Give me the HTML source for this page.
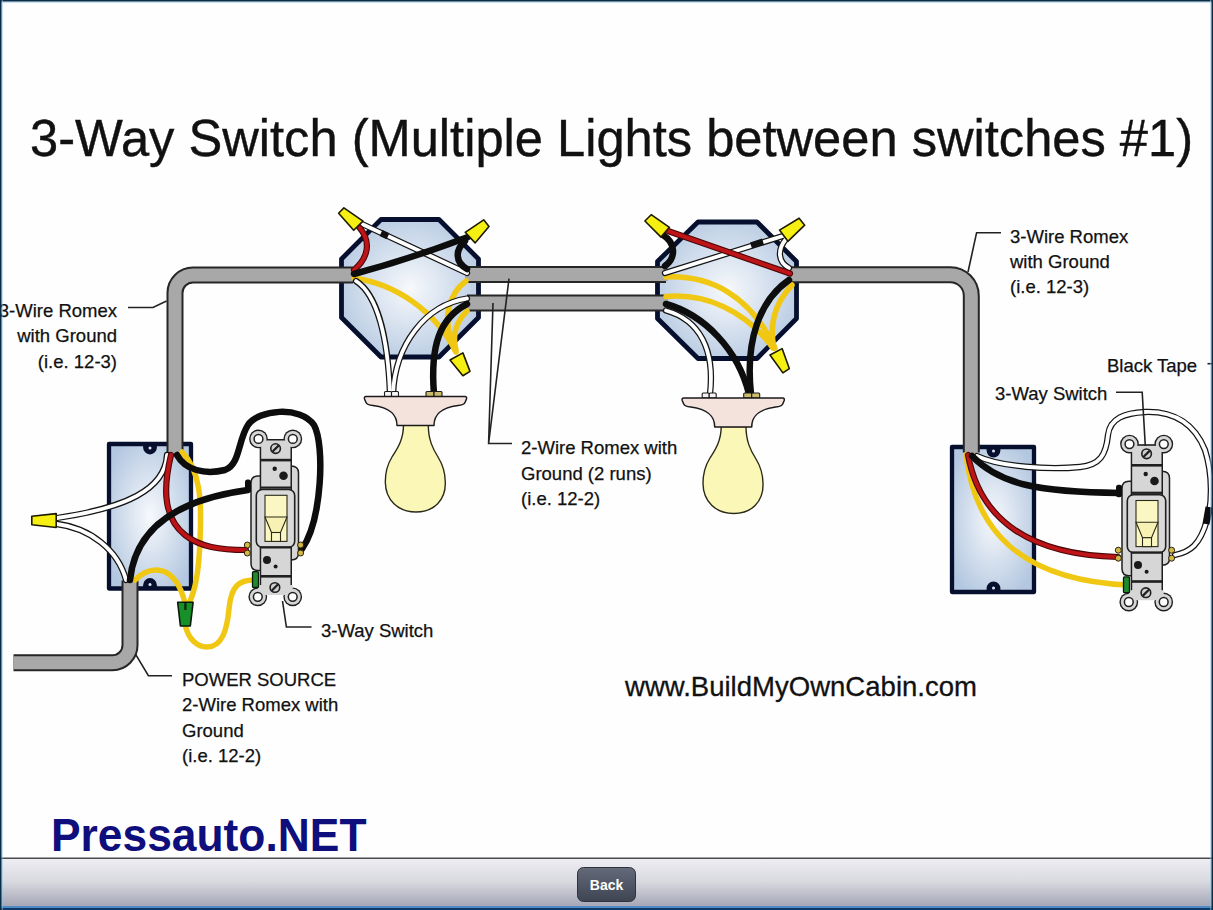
<!DOCTYPE html>
<html><head><meta charset="utf-8">
<style>
html,body{margin:0;padding:0;width:1213px;height:910px;overflow:hidden;background:#fff;}
svg{position:absolute;left:0;top:0;display:block;}
text{font-family:"Liberation Sans",sans-serif;fill:#111;}
</style></head><body>
<svg width="1213" height="910" viewBox="0 0 1213 910">
<defs>
  <radialGradient id="boxg" cx="50%" cy="50%" r="60%">
    <stop offset="0" stop-color="#f7f9fc"/>
    <stop offset="1" stop-color="#b3c7e0"/>
  </radialGradient>
  <linearGradient id="tb" x1="0" y1="0" x2="0" y2="1">
    <stop offset="0" stop-color="#efeef4"/>
    <stop offset="0.45" stop-color="#d9d9e0"/>
    <stop offset="1" stop-color="#9d9fb0"/>
  </linearGradient>
  <linearGradient id="btn" x1="0" y1="0" x2="0" y2="1">
    <stop offset="0" stop-color="#646a7a"/>
    <stop offset="1" stop-color="#3f4453"/>
  </linearGradient>
</defs>
<rect x="0" y="0" width="1213" height="910" fill="#fefefe"/>


<!-- BOXES -->
<g stroke="#06102e" stroke-width="4.8" fill="url(#boxg)" stroke-linejoin="round">
  <path d="M381 219.5 H439 L478.5 259 V317.5 L439 357 H381 L341.5 317.5 V259 Z"/>
  <path d="M698 222 H757 L796.5 261.5 V318.5 L757 358.5 H698 L657.5 318.5 V261.5 Z"/>
</g>
<g stroke="#06102e" stroke-width="4.3" fill="url(#boxg)" stroke-linejoin="round">
  <rect x="109" y="444" width="82" height="144.5"/>
  <rect x="952" y="447" width="82" height="145"/>
</g>
<g fill="#06102e">
  <path d="M143.1 444 V447.5 A6.9 6.9 0 0 0 156.9 447.5 V444 Z M143.1 588.5 V585 A6.9 6.9 0 0 1 156.9 585 V588.5 Z"/>
  <path d="M986.6 447 V450.5 A6.9 6.9 0 0 0 1000.4 450.5 V447 Z M986.6 592 V588.5 A6.9 6.9 0 0 1 1000.4 588.5 V592 Z"/>
</g>
<g fill="#dfe6f2">
  <circle cx="150" cy="448" r="1.5"/><circle cx="150" cy="584.5" r="1.5"/>
  <circle cx="993.5" cy="451" r="1.5"/><circle cx="993.5" cy="588" r="1.5"/>
</g>

<!-- CABLES -->
<g fill="none" stroke-linecap="butt" stroke-linejoin="round">
  <g stroke="#262626" stroke-width="17">
    <path d="M175 453 V293 A18 18 0 0 1 193 275 H353"/>
    <path d="M467 274.5 H666 M467 303 H666"/>
    <path d="M789 274.7 H950 A21 21 0 0 1 971.3 296 V452.5"/>
    <path d="M130 580.5 V645 A17.5 17.5 0 0 1 112.5 662.7 H13.5"/>
  </g>
  <g stroke="#a8a8a8" stroke-width="13">
    <path d="M175 455 V293 A18 18 0 0 1 193 275 H355"/>
    <path d="M465 274.5 H668 M465 303 H668"/>
    <path d="M787 274.7 H950 A21 21 0 0 1 971.3 296 V454.5"/>
    <path d="M130 578.5 V645 A17.5 17.5 0 0 1 112.5 662.7 H13.5"/>
  </g>
</g>


<!-- WIRES -->
<g fill="none" stroke-linecap="round" stroke-linejoin="round" id="wires">
  <!-- ===== octagon 1 ===== -->
  <!-- yellow -->
  <g stroke="#f0c814" stroke-width="5.5">
    <path d="M354 278 C 395 284, 435 310, 456 352"/>
    <path d="M466 281 C 450 293, 440 318, 455 350"/>
    <path d="M467 311 C 456 322, 452 335, 456 350"/>
  </g>
  <!-- white (outline + inner) -->
  <g stroke="#151515" stroke-width="6.3">
    <path d="M356 281 C 378 295, 388 340, 390 394"/>
    <path d="M467 298.5 C 425 305, 395 345, 393 394"/>
    <path d="M362 224 L467 273"/>
  </g>
  <g stroke="#ffffff" stroke-width="3.8">
    <path d="M356 281 C 378 295, 388 340, 390 394"/>
    <path d="M467 298.5 C 425 305, 395 345, 393 394"/>
    <path d="M362 224 L467 273"/>
  </g>
  <path d="M381 233 L388 236.3" stroke="#111" stroke-width="6.5" stroke-linecap="butt"/>
  <!-- red -->
  <path d="M354 270 C 368 258, 372 242, 359 227" stroke="#4a0606" stroke-width="6.2"/>
  <path d="M354 270 C 368 258, 372 242, 359 227" stroke="#bd1418" stroke-width="4"/>
  <!-- black -->
  <g stroke="#0d0d0d" stroke-width="6.5">
    <path d="M354 274 Q 410 259 468 237"/>
    <path d="M465 241 C 455 250, 455 262, 467 269"/>
    <path d="M467 304 C 440 318, 430 345, 434 394"/>
  </g>

  <!-- ===== octagon 2 ===== -->
  <g stroke="#f0c814" stroke-width="5.5">
    <path d="M666 277 C 710 275, 750 295, 775 348"/>
    <path d="M666 296.5 C 705 293, 745 310, 773 348"/>
    <path d="M792 285 C 778 300, 768 320, 774 348"/>
  </g>
  <g stroke="#151515" stroke-width="6.3">
    <path d="M666 310.5 C 700 320, 715 350, 710 394"/>
    <path d="M665 273 L783 236"/>
    <path d="M786 239 C 777 250, 778 262, 789 268"/>
  </g>
  <g stroke="#ffffff" stroke-width="3.8">
    <path d="M666 310.5 C 700 320, 715 350, 710 394"/>
    <path d="M665 273 L783 236"/>
    <path d="M786 239 C 777 250, 778 262, 789 268"/>
  </g>
  <path d="M751 245.5 L763 241.7" stroke="#111" stroke-width="6.5" stroke-linecap="butt"/>
  <path d="M668 231 L790 273.5" stroke="#4a0606" stroke-width="6.2"/>
  <path d="M668 231 L790 273.5" stroke="#bd1418" stroke-width="4"/>
  <g stroke="#0d0d0d" stroke-width="6.5">
    <path d="M663 235 C 676 243, 676 258, 665 266"/>
    <path d="M666 304 C 705 315, 738 350, 749 394"/>
    <path d="M789 280 C 760 300, 745 340, 751 394"/>
  </g>

  <!-- ===== left switch box ===== -->
  <g stroke="#f0c814" stroke-width="5.5">
    <path d="M182 452 C 200 470, 202 500, 200 540 C 199 570, 196 590, 189 603"/>
    <path d="M135 580 C 150 565, 175 563, 185 603"/>
    <path d="M185 624 C 188 640, 198 647, 207 647 C 222 647, 227 630, 229 609 C 231 585, 240 580, 254 580"/>
  </g>
  <g stroke="#151515" stroke-width="6.3">
    <path d="M167 455 C 165 490, 125 508, 57 518"/>
    <path d="M126 580 C 118 550, 90 528, 57 524"/>
  </g>
  <g stroke="#ffffff" stroke-width="3.8">
    <path d="M167 455 C 165 490, 125 508, 57 518"/>
    <path d="M126 580 C 118 550, 90 528, 57 524"/>
  </g>
  <path d="M171 455 C 165 480, 160 515, 185 535 C 200 547, 220 550, 246 550" stroke="#4a0606" stroke-width="6.2"/>
  <path d="M171 455 C 165 480, 160 515, 185 535 C 200 547, 220 550, 246 550" stroke="#bd1418" stroke-width="4"/>
  <g stroke="#0d0d0d" stroke-width="6.5">
    <path d="M177 455 C 185 470, 205 475, 225 470 C 240 465, 238 440, 248 425 C 258 410, 300 405, 314 425 C 325 445, 322 520, 302 549"/>
    <path d="M130 580 C 135 530, 175 500, 248 490"/>
  </g>

  <!-- ===== right switch box ===== -->
  <g stroke="#f0c814" stroke-width="5.5">
    <path d="M966 455 C 975 530, 1020 580, 1127 585"/>
  </g>
  <g stroke="#151515" stroke-width="6.3">
    <path d="M977 456 C 1000 467, 1050 470, 1080 467 C 1100 465, 1106 455, 1108 435 C 1110 418, 1125 413, 1145 412 C 1175 411, 1195 425, 1205 450 C 1213 475, 1212 505, 1207 520 C 1200 545, 1190 552, 1175 555"/>
  </g>
  <g stroke="#ffffff" stroke-width="3.8">
    <path d="M977 456 C 1000 467, 1050 470, 1080 467 C 1100 465, 1106 455, 1108 435 C 1110 418, 1125 413, 1145 412 C 1175 411, 1195 425, 1205 450 C 1213 475, 1212 505, 1207 520 C 1200 545, 1190 552, 1175 555"/>
  </g>
  <path d="M968 455 C 980 520, 1030 555, 1118 557" stroke="#4a0606" stroke-width="6.2"/>
  <path d="M968 455 C 980 520, 1030 555, 1118 557" stroke="#bd1418" stroke-width="4"/>
  <g stroke="#0d0d0d" stroke-width="6.5">
    <path d="M972 456 C 1000 485, 1040 492, 1120 493"/>
  </g>
  <path d="M1209 507 L1206 524" stroke="#0d0d0d" stroke-width="7" stroke-linecap="butt"/>
</g>


<!-- NUTS -->
<g fill="#f6ef12" stroke="#1d1a00" stroke-width="1.6" stroke-linejoin="round">
  <path d="M338.6 213.2 L343.9 207.9 L363 221.1 L353.7 230.3 Z"/>
  <path d="M465.2 232.3 L483.7 219.8 L489 226.4 L475.1 242.9 Z"/>
  <path d="M450 360 L462.9 352.9 L470 371.4 L462.9 375.7 Z"/>
  <path d="M644.9 221 L651.2 214.7 L669.4 227.3 L661 237.1 Z"/>
  <path d="M779.5 230.1 L799.1 218.2 L804.7 225.2 L787.9 241.3 Z"/>
  <path d="M770 355 L782.1 348.6 L789.3 368.6 L782.9 372.9 Z"/>
  <path d="M31.8 516.3 L56.2 513.6 L56.2 527.5 L31.8 524.8 Z"/>
</g>
<path d="M177.7 602.3 H193.1 L190.3 626 H180.4 Z" fill="#17902a" stroke="#0a1a0a" stroke-width="1.6" stroke-linejoin="round"/>
<path d="M185.4 603 V610" stroke="#0a3010" stroke-width="2.5"/>

<!-- LAMPS -->
<g id="lamp1" stroke="#1a1a1a" stroke-width="1.5" stroke-linejoin="round">
  <rect x="384.5" y="391.5" width="7" height="5" rx="1" fill="#f4f4f4" stroke-width="1.1"/>
  <rect x="391.5" y="391.5" width="7" height="5" rx="1" fill="#f4f4f4" stroke-width="1.1"/>
  <rect x="426" y="391.5" width="8" height="5" rx="1" fill="#cdbb6c" stroke-width="1.1"/>
  <rect x="434" y="391.5" width="8" height="5" rx="1" fill="#cdbb6c" stroke-width="1.1"/>
  <path d="M403.5 425 C 403.5 440, 397 449, 392 457 C 387 465, 385.3 472, 385.3 482 C 385.5 500, 398 512, 416 512 C 434 512, 446 500, 445.3 482 C 445.2 472, 443 465, 438 457 C 433 449, 428.3 440, 428.3 425 Z" fill="#fbf7b6" stroke="#2a2a1a" stroke-width="1.4"/>
  <path d="M366 396.5 H465 Q467 396.5 466.5 399 L465 402.5 Q464 405 458 405.5 C 440 408, 434 415, 434 425.5 H397 C 397 415, 391 408, 373 405.5 Q367 405 366 402.5 L364.5 399 Q364 396.5 366 396.5 Z" fill="#f4e2dc"/>
</g>
<use href="#lamp1" transform="translate(317.7 1.5)"/>

<!-- SWITCHES -->
<g id="sw1">
  <!-- body -->
  <path d="M251 483 Q251 476 258 476 H262 V466 H291 Q298.5 466 298.5 473 V553 Q298.5 560 291 560 H262 V570.5 H258 Q251 570.5 251 563.5 Z" fill="#d6d6d6" stroke="#1f1f1f" stroke-width="1.5"/>
  <!-- yoke outline (dark union) -->
  <g fill="#1f1f1f">
    <circle cx="258.5" cy="438.9" r="9.4"/><circle cx="292.8" cy="438.9" r="9.4"/>
    <rect x="259.7" y="439" width="32.3" height="150"/>
    <circle cx="257.8" cy="596.8" r="9.4"/><circle cx="292.7" cy="596.8" r="9.4"/>
  </g>
  <g fill="#d6d6d6">
    <circle cx="258.5" cy="438.9" r="8"/><circle cx="292.8" cy="438.9" r="8"/>
    <rect x="261.2" y="440.7" width="29.3" height="146.6"/>
    <rect x="258.5" y="440.7" width="34.3" height="6"/>
    <circle cx="257.8" cy="596.8" r="8"/><circle cx="292.7" cy="596.8" r="8"/>
    <rect x="257.8" y="585" width="34.9" height="10"/>
  </g>
  <!-- yoke bands -->
  <g fill="#1f1f1f">
    <rect x="260" y="458.8" width="31.5" height="2.6"/>
    <rect x="260" y="486.5" width="31.5" height="2.2"/>
    <rect x="260" y="575" width="31.5" height="2.6"/>
  </g>
  <!-- toggle frame -->
  <rect x="256.3" y="489.5" width="38.4" height="57.8" rx="6" fill="#d9d9d9" stroke="#1f1f1f" stroke-width="1.6"/>
  <rect x="260" y="546.3" width="31.5" height="2.2" fill="#1f1f1f"/>
  <!-- toggle -->
  <g stroke="#2a2a1a" stroke-width="1.1" fill="#fbf7c2">
    <rect x="265" y="495.3" width="22" height="46.1"/>
    <path d="M265 517 H287 L280.5 532.5 H271.5 Z" fill="#f7f1b4"/>
    <rect x="271.5" y="532.5" width="9" height="8.9"/>
  </g>
  <!-- holes -->
  <g fill="#ffffff" stroke="#1f1f1f" stroke-width="1.5">
    <circle cx="258.5" cy="438.9" r="4.4"/><circle cx="292.8" cy="438.9" r="4.4"/>
    <circle cx="257.8" cy="596.8" r="4.4"/><circle cx="292.7" cy="596.8" r="4.4"/>
  </g>
  <!-- screws -->
  <g fill="#cfcfcf" stroke="#1f1f1f" stroke-width="1.6">
    <circle cx="275.6" cy="448.6" r="4.8"/>
    <circle cx="274.9" cy="587.5" r="4.8"/>
  </g>
  <path d="M272.4 451.8 L278.8 445.4 M271.7 590.7 L278.1 584.3" stroke="#1f1f1f" stroke-width="2.2"/>
  <!-- dots -->
  <g fill="#1a1a1a">
    <circle cx="274.7" cy="468.8" r="2.2"/><circle cx="283.5" cy="475.8" r="4.3"/>
    <circle cx="267" cy="559.9" r="4"/><circle cx="275.6" cy="566.5" r="2"/>
  </g>
  <!-- terminals -->
  <rect x="245" y="479.5" width="6" height="12.5" rx="2.5" fill="#0d0d0d"/>
  <g fill="#d3b845" stroke="#2a2410" stroke-width="1">
    <circle cx="247.3" cy="545" r="3"/><circle cx="247.3" cy="553" r="3"/>
    <circle cx="300.6" cy="545" r="3"/><circle cx="300.6" cy="553" r="3"/>
  </g>
  <rect x="252.5" y="571.7" width="6" height="15.8" rx="1" fill="#1f8a2f" stroke="#0a1a0a" stroke-width="1.3"/>
</g>
<use href="#sw1" transform="translate(871 5.2)"/>

<!-- TITLE -->
<text x="30" y="156.3" font-size="51.5" textLength="1163" lengthAdjust="spacingAndGlyphs" stroke="#111" stroke-width="0.4">3-Way Switch (Multiple Lights between switches #1)</text>

<!-- LABELS -->
<g font-size="18.5" stroke="#111" stroke-width="0.25">
  <text x="117" y="317" text-anchor="end">3-Wire Romex</text>
  <text x="117" y="342" text-anchor="end">with Ground</text>
  <text x="117" y="368" text-anchor="end">(i.e. 12-3)</text>

  <text x="1010" y="243">3-Wire Romex</text>
  <text x="1010" y="268">with Ground</text>
  <text x="1010" y="293">(i.e. 12-3)</text>

  <text x="521" y="453.7">2-Wire Romex with</text>
  <text x="521" y="479.5">Ground (2 runs)</text>
  <text x="521" y="505.2">(i.e. 12-2)</text>

  <text x="321" y="637">3-Way Switch</text>

  <text x="182" y="686">POWER SOURCE</text>
  <text x="182" y="711">2-Wire Romex with</text>
  <text x="182" y="737">Ground</text>
  <text x="182" y="762">(i.e. 12-2)</text>

  <text x="1107" y="372">Black Tape</text>
  <text x="995" y="400">3-Way Switch</text>
</g>
<text x="625" y="696" font-size="27.8" textLength="352" lengthAdjust="spacingAndGlyphs" stroke="#111" stroke-width="0.3">www.BuildMyOwnCabin.com</text>

<!-- leader lines -->
<g fill="none" stroke="#222" stroke-width="1.6">
  <path d="M128 307.5 H153 L166.5 301"/>
  <path d="M968 272 L976.6 232.7 H1001"/>
  <path d="M509 278.6 L488.6 443.5 H512 M493 303 L488.6 443.5"/>
  <path d="M282.5 601 L286.4 627 H311.5"/>
  <path d="M135.8 654.6 L148.4 675.7 H172"/>
  <path d="M1116 392.3 H1142.2 L1145.3 446"/>
  <path d="M1207.5 363.7 H1212"/>
</g>

<!-- PRESSAUTO -->
<text x="51" y="850.5" font-size="46.5" font-weight="bold" textLength="315.5" lengthAdjust="spacingAndGlyphs" style="fill:#0e0e7c">Pressauto.NET</text>

<!-- TOOLBAR -->
<rect x="0" y="858" width="1213" height="52" fill="url(#tb)"/>
<rect x="0" y="857.5" width="1213" height="1.5" fill="#4a4a4a"/>
<rect x="0" y="906" width="1213" height="2" fill="#4f8ac2"/>
<rect x="0" y="908" width="1213" height="2" fill="#0d3a68"/>
<rect x="577.5" y="867.5" width="58" height="34" rx="6" fill="url(#btn)" stroke="#2e323c" stroke-width="1"/>
<text x="606.5" y="889.5" font-size="14" font-weight="bold" text-anchor="middle" style="fill:#fff">Back</text>

<!-- FRAME -->
<rect x="0" y="1.5" width="1213" height="1.2" fill="#8fc6ea" opacity="0.7"/>
<rect x="0" y="0" width="1213" height="1.5" fill="#0c2c44"/>
<rect x="1.5" y="0" width="1.2" height="910" fill="#8fc6ea" opacity="0.7"/>
<rect x="0" y="0" width="1.5" height="910" fill="#0c2c44"/>
<rect x="1210.3" y="0" width="1.2" height="910" fill="#8fc6ea" opacity="0.7"/>
<rect x="1211.5" y="0" width="1.5" height="910" fill="#0c2c44"/>
</svg>
</body></html>
